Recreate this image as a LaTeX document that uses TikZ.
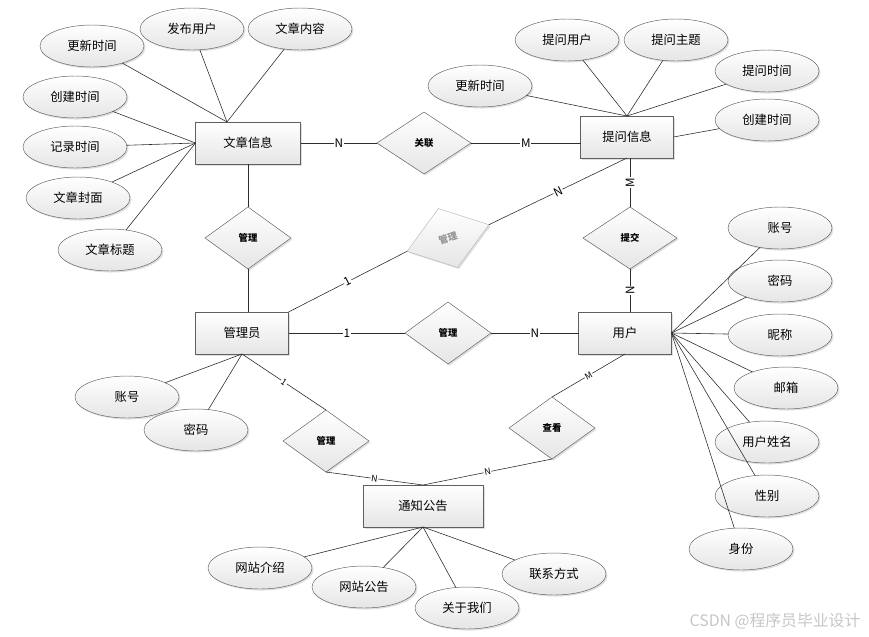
\documentclass[tikz,border=0pt]{standalone}
\usepackage{fontspec}
\setmainfont{Noto Sans CJK SC}
\usetikzlibrary{shapes.geometric,shadows}
\tikzset{ent/.style={draw=gray!75!black, top color=white, bottom color=gray!20, outer sep=0pt,
    drop shadow={shadow xshift=1.3pt, shadow yshift=-1.3pt, opacity=0.25},
    minimum width=2.79cm, minimum height=1.26cm, font=\fontsize{10.5}{12}\selectfont},
  att/.style={ent, ellipse, inner sep=1pt, minimum width=3.12cm, minimum height=1.26cm},
  rel/.style={ent, diamond, inner sep=1pt, minimum width=2.58cm, minimum height=1.86cm, font=\fontsize{8}{9}\selectfont\bfseries},
  lnk/.style={draw=gray!35!black, line width=0.5pt},
  card/.style={fill=white, inner sep=0.6pt, font=\fontsize{10}{11}\selectfont},
  cards/.style={card, font=\fontsize{7.5}{8}\selectfont}}

\begin{document}
\begin{tikzpicture}[x=0.03cm, y=-0.03cm]
  \useasboundingbox (0,0) rectangle (869,636);
  % entities
  \node[ent, minimum width=3.15cm] (wz) at (248,143) {文章信息};
  \node[ent] (wq)  at (627,137) {提问信息};
  \node[ent] (gly) at (242,333) {管理员};
  \node[ent] (yh)  at (625,333) {用户};
  \node[ent, minimum width=3.6cm] (tz) at (423,506) {通知公告};
  % relations
  \node[rel, minimum width=2.82cm] (gl) at (424,143) {关联};
  \node[rel] (ga) at (248,238) {管理};
  \node[rel, rotate=18, draw=gray!55, text=gray!85] (gr) at (448,238) {管理};
  \node[rel, minimum width=2.82cm] (tj) at (630,238) {提交};
  \node[rel] (gm) at (448,333) {管理};
  \node[rel] (gt) at (326,441) {管理};
  \node[rel] (ck) at (552,428) {查看};
  % attributes of 文章信息
  \node[att] (wz1) at (92,46)   {更新时间};
  \node[att] (wz2) at (192,29)  {发布用户};
  \node[att] (wz3) at (300,29)  {文章内容};
  \node[att] (wz4) at (75,97)   {创建时间};
  \node[att] (wz5) at (75,147)  {记录时间};
  \node[att] (wz6) at (78,198)  {文章封面};
  \node[att] (wz7) at (110,250) {文章标题};
  % attributes of 提问信息
  \node[att] (wq1) at (480,86)  {更新时间};
  \node[att] (wq2) at (567,40)  {提问用户};
  \node[att] (wq3) at (676,40)  {提问主题};
  \node[att] (wq4) at (767,71)  {提问时间};
  \node[att] (wq5) at (767,120) {创建时间};
  % attributes of 用户
  \node[att] (yh1) at (780,228) {账号};
  \node[att] (yh2) at (780,281) {密码};
  \node[att] (yh3) at (780,335) {昵称};
  \node[att] (yh4) at (786,388) {邮箱};
  \node[att] (yh5) at (767,442) {用户姓名};
  \node[att] (yh6) at (767,496) {性别};
  \node[att] (yh7) at (741,549) {身份};
  % attributes of 管理员
  \node[att] (gly1) at (127,397) {账号};
  \node[att] (gly2) at (196,430) {密码};
  % attributes of 通知公告
  \node[att] (tz1) at (260,568) {网站介绍};
  \node[att] (tz2) at (364,587) {网站公告};
  \node[att] (tz3) at (467,608) {关于我们};
  \node[att] (tz4) at (554,574) {联系方式};

  \draw[lnk] (wz1) -- (wz.135);
  \draw[lnk] (wz2) -- (wz.135);
  \draw[lnk] (wz3) -- (wz.135);
  \draw[lnk] (wz4) -- (wz.west);
  \draw[lnk] (wz5) -- (wz.west);
  \draw[lnk] (wz6) -- (wz.west);
  \draw[lnk] (wz7) -- (wz.west);
  \draw[lnk] (wq1) -- (wq.north);
  \draw[lnk] (wq2) -- (wq.north);
  \draw[lnk] (wq3) -- (wq.north);
  \draw[lnk] (wq4) -- (wq.north);
  \draw[lnk] (wq5) -- (wq.east);
  \draw[lnk] (yh1) -- (yh.east);
  \draw[lnk] (yh2) -- (yh.east);
  \draw[lnk] (yh3) -- (yh.east);
  \draw[lnk] (yh4) -- (yh.east);
  \draw[lnk] (yh5) -- (yh.east);
  \draw[lnk] (yh6) -- (yh.east);
  \draw[lnk] (yh7) -- (yh.east);
  \draw[lnk] (gly1) -- (gly.south);
  \draw[lnk] (gly2) -- (gly.south);
  \draw[lnk] (tz1) -- (tz.south);
  \draw[lnk] (tz2) -- (tz.south);
  \draw[lnk] (tz3) -- (tz.south);
  \draw[lnk] (tz4) -- (tz.south);

  % relation lines
  \draw[lnk] (wz.east) -- node[card]{N} (gl.west);
  \draw[lnk] (gl.east) -- node[card]{M} (gl.east -| wq.west);
  \draw[lnk] (ga.north) -- (ga.north |- wz.south);
  \draw[lnk] (ga.south) -- (ga.south |- gly.north);
  \draw[lnk] (gly.north east) -- node[card, sloped]{1} (gr.west);
  \draw[lnk] (gr.east) -- node[card, sloped]{N} (wq.south);
  \draw[lnk] (tj.north) -- node[card, rotate=90]{M} (tj.north |- wq.south);
  \draw[lnk] (tj.south) -- node[card, rotate=90]{N} (tj.south |- yh.north);
  \draw[lnk] (gly.east) -- node[card]{1} (gm.west);
  \draw[lnk] (gm.east) -- node[card]{N} (yh.west);
  \draw[lnk] (gly.south) -- node[cards, sloped]{1} (gt.north);
  \draw[lnk] (gt.south) -- node[cards, sloped]{N} (tz.north);
  \draw[lnk] (ck.north) -- node[cards, sloped]{M} (yh.south);
  \draw[lnk] (ck.south) -- node[cards, sloped]{N} (tz.north);

  \node[text=gray!45, font=\fontsize{13.5}{14}\selectfont] (wm) at (775,621) {CSDN @程序员毕业设计};
\end{tikzpicture}
\end{document}
